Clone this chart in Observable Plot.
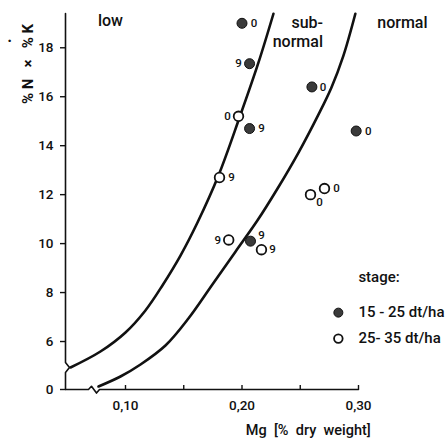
<!DOCTYPE html>
<html><head><meta charset="utf-8">
<script src="https://cdn.jsdelivr.net/npm/d3@7"></script>
<script src="https://cdn.jsdelivr.net/npm/@observablehq/plot@0.6"></script>
<style>body{margin:0;background:#fff}</style>
</head><body><div id="chart"></div>
<script>
// ---- data ----
const filledX = [0.200, 0.2065, 0.2065, 0.260, 0.298, 0.2073];
const filledY = [19.0, 17.35, 14.7, 16.4, 14.6, 10.1];
const filledLabel = ["0", "9", "9", "0", "0", "9"];
const openX = [0.197, 0.1807, 0.1886, 0.2167, 0.2588, 0.2708];
const openY = [15.2, 12.7, 10.15, 9.75, 12.0, 12.25];
const openLabel = ["0", "9", "9", "9", "0", "0"];
const lowerCurveX = [0.0528, 0.0785, 0.1000, 0.1171, 0.1317, 0.1472, 0.1618, 0.1798, 0.1978, 0.2141, 0.2270];
const lowerCurveY = [2.75, 4.75, 6.37, 7.27, 8.29, 9.51, 10.86, 12.78, 15.14, 17.39, 19.39];
const upperCurveX = [0.0768, 0.0957, 0.1129, 0.1343, 0.1540, 0.1746, 0.1944, 0.2132, 0.2304, 0.2484, 0.2656, 0.2767, 0.2870, 0.2973];
const upperCurveY = [0.375, 1.625, 3.125, 5.5, 6.94, 8.33, 9.67, 10.94, 12.24, 13.71, 15.27, 16.37, 17.67, 19.39];
const xTicks = [0.10, 0.20, 0.30];
const xMinorTicks = [0.15, 0.25];
const yTicks = [0, 6, 8, 10, 12, 14, 16, 18];
const regionLabels = ["low", "sub-", "normal", "normal"];
const legendTitle = "stage:";
const legendLabels = ["15 - 25 dt/ha", "25- 35 dt/ha"];

// ---- layout (not data) ----
const filledOff = [[12,0],[-11,0],[12,0],[11,0],[12,0],[11,-6]];
const openOff = [[-11,0],[12,0],[-11,0],[11,0],[9,8],[12,0]];
const x0 = 0.0485;
const font = "Roboto, 'DejaVu Sans', sans-serif";
// broken y axis: 0..6 compressed into the bottom segment
const yBreakBase = 4.04;
const yBreak = v => v >= 6 ? v : yBreakBase + v * (6 - yBreakBase) / 6;

const filled = filledX.map((x, i) => ({x, y: filledY[i], t: filledLabel[i]}));
const open = openX.map((x, i) => ({x, y: openY[i], t: openLabel[i]}));
const lower = lowerCurveX.map((x, i) => ({x, y: lowerCurveY[i]}));
const upper = upperCurveX.map((x, i) => ({x, y: upperCurveY[i]}));

const yAxisLine = [{x: x0, y: 0}, {x: x0, y: 2.125}, {x: 0.0519, y: 2.75}, {x: x0, y: 3.375}, {x: x0, y: 19.4}];
const xAxisLine = [{x: x0, y: 0}, {x: 0.0682, y: 0}, {x: 0.0708, y: 0.4}, {x: 0.0751, y: -0.45}, {x: 0.0777, y: 0}, {x: 0.30, y: 0}];

const labelMarks = [
  ...filled.map((d, i) => Plot.text([d], {x: "x", y: "y", text: "t", dx: filledOff[i][0], dy: filledOff[i][1], fontSize: 11.5})),
  ...open.map((d, i) => Plot.text([d], {x: "x", y: "y", text: "t", dx: openOff[i][0], dy: openOff[i][1], fontSize: 11.5}))
];

const chart = Plot.plot({
  width: 448, height: 441,
  marginLeft: 65, marginRight: 90, marginTop: 13, marginBottom: 52,
  style: {fontFamily: font, fontWeight: 500, color: "#111", background: "#fff", overflow: "visible"},
  x: {domain: [x0, 0.30]},
  y: {domain: [yBreakBase, 19.4], transform: yBreak},
  marks: [
    Plot.line(yAxisLine, {x: "x", y: "y", stroke: "#111", strokeWidth: 1.6}),
    Plot.line(xAxisLine, {x: "x", y: "y", stroke: "#111", strokeWidth: 1.6}),
    Plot.ruleX([...xTicks, ...xMinorTicks], {y1: 0, y2: 0.5, stroke: "#111", strokeWidth: 1.4}),
    Plot.axisY(yTicks, {tickSize: 5, tickPadding: 7, fontSize: 13.5, label: null, tickFormat: d => String(d), strokeWidth: 1.4}),
    Plot.axisX(xTicks, {tickSize: 0, tickPadding: 11, fontSize: 13.5, label: null, tickFormat: d => d.toFixed(2).replace(".", ",")}),
    Plot.line(lower, {x: "x", y: "y", curve: "catmull-rom", stroke: "#111", strokeWidth: 2.6}),
    Plot.line(upper, {x: "x", y: "y", curve: "catmull-rom", stroke: "#111", strokeWidth: 2.6}),
    Plot.dot(filled, {x: "x", y: "y", r: 5, fill: "#3a3a3a", stroke: "#111", strokeWidth: 1}),
    Plot.dot(open, {x: "x", y: "y", r: 4.8, fill: "#fff", stroke: "#111", strokeWidth: 1.8}),
    ...labelMarks,
    Plot.text([regionLabels[0]], {x: 0.0871, y: 19.1, text: d => d, fontSize: 16}),
    Plot.text([regionLabels[1]], {x: 0.2695, y: 19.02, text: d => d, fontSize: 16, textAnchor: "end"}),
    Plot.text([regionLabels[2]], {x: 0.2695, y: 18.24, text: d => d, fontSize: 16, textAnchor: "end"}),
    Plot.text([regionLabels[3]], {x: 0.3377, y: 19.02, text: d => d, fontSize: 16}),
    Plot.text([legendTitle], {x: 0.2999, y: 8.61, text: d => d, fontSize: 15, textAnchor: "start"}),
    Plot.dot([{x: 0.2827, y: 7.18}], {x: "x", y: "y", r: 4.5, fill: "#3a3a3a", stroke: "#111", strokeWidth: 1}),
    Plot.dot([{x: 0.2827, y: 6.12}], {x: "x", y: "y", r: 4.3, fill: "#fff", stroke: "#111", strokeWidth: 1.8}),
    Plot.text([legendLabels[0]], {x: 0.2999, y: 7.18, text: d => d, fontSize: 15, textAnchor: "start"}),
    Plot.text([legendLabels[1]], {x: 0.2999, y: 6.12, text: d => d, fontSize: 15, textAnchor: "start"}),
    Plot.text(["Mg  [%  dry  weight]"], {x: 0.3105, y: -5.1, text: d => d, fontSize: 14.5, textAnchor: "end"}),
    Plot.text(["%\u00a0N\u00a0\u00a0\u00a0×\u00a0\u00a0\u00a0%\u00a0K"], {x: 0.0169, y: 17.34, rotate: -90, text: d => d, fontSize: 15, fontWeight: 700}),
    Plot.text(["·"], {x: 0.0006, y: 18.3, text: d => d, fontSize: 16, fontWeight: 700})
  ]
});
document.getElementById("chart").appendChild(chart);
</script>
</body></html>
